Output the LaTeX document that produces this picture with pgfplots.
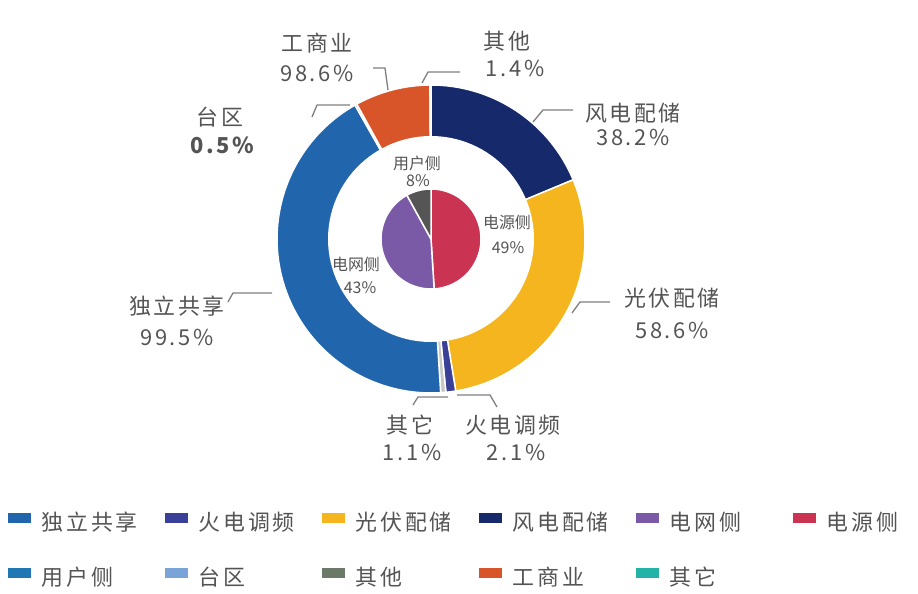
\documentclass[border=0pt]{standalone}
\usepackage{pgfplots}
\pgfplotsset{compat=1.18}
\usepackage{fontspec}
\setmainfont{Noto Sans CJK SC}
\newfontfamily\lblfont{Noto Sans CJK SC}[LetterSpace=12]
\newfontfamily\inlblfont{Noto Sans CJK SC}

\definecolor{txt}{HTML}{545454}
\definecolor{lead}{HTML}{7F7F7F}
\definecolor{cIndep}{HTML}{2166AC}
\definecolor{cThermal}{HTML}{3A3F98}
\definecolor{cPV}{HTML}{F5B51E}
\definecolor{cWind}{HTML}{15296B}
\definecolor{cGrid}{HTML}{7A5AA6}
\definecolor{cSource}{HTML}{CB3352}
\definecolor{cUser}{HTML}{1F77B4}
\definecolor{cUserPie}{HTML}{555555}
\definecolor{cTaiqu}{HTML}{7AA3D8}
\definecolor{cQita}{HTML}{6B7A66}
\definecolor{cComm}{HTML}{D8552A}
\definecolor{cOther}{HTML}{22B3A6}
\definecolor{cOtherRing}{HTML}{C8C8C8}

% running total of the whole, in per cent
\def\cum{0}
% #1 colour, #2 share of the group (per cent), #3 share within the group (per cent), #4 radius
\newcommand\seg[4]{%
  \pgfmathsetmacro\sa{-90+3.6*\cum}%
  \pgfmathsetmacro\sb{-90+3.6*(\cum+#2*#3/100)}%
  \edef\doseg{\noexpand\addplot[forget plot, fill=#1, draw=white, line width=1.5bp,
      domain=\sa:\sb, samples=80]
      ({431+#4*cos(x)},{239+#4*sin(x)}) -- (431,239) -- cycle;}%
  \doseg
  \pgfmathsetmacro\cumnew{\cum+#2*#3/100}\xdef\cum{\cumnew}%
}

\tikzset{
  outl/.style={font=\lblfont\fontsize{22}{26}\selectfont, text=txt, inner sep=0pt, anchor=center},
  inl/.style={font=\inlblfont\fontsize{16}{19}\selectfont, text=txt, inner sep=0pt, anchor=center},
  ld/.style={draw=lead, line width=1.3bp},
}

\begin{document}
\begin{tikzpicture}
\begin{axis}[
  width=918bp, height=594bp, scale only axis,
  xmin=0, xmax=918, ymin=0, ymax=594, y dir=reverse,
  hide axis, clip=false,
  legend columns=6,
  legend image code/.code={\fill[#1, draw=none] (0bp,2.5bp) rectangle (23bp,12.5bp);},
  legend style={draw=none, fill=none, inner sep=0pt, outer sep=0pt,
    at={(axis cs:8,512.5)}, anchor=north west,
    font=\lblfont\fontsize{22}{26}\selectfont, text=txt,
    row sep=33bp,
    /tikz/every odd column/.style={column sep=11bp},
    /tikz/every even column/.style={column sep=13bp},
    nodes={inner sep=0pt, text width=110bp, align=left, text height=15bp, text depth=4bp}},
]
% outer ring: 电源侧 49 (风电配储, 光伏配储, 火电调频, 其它), 电网侧 43 (独立共享, 台区), 用户侧 8 (工商业, 其他)
\seg{cWind}{49}{38.2}{154}
\seg{cPV}{49}{58.6}{154}
\seg{cThermal}{49}{2.1}{154}
\seg{cOtherRing}{49}{1.1}{154}
\seg{cIndep}{43}{99.5}{154}
\seg{cTaiqu}{43}{0.5}{154}
\seg{cComm}{8}{98.6}{154}
\seg{cOther}{8}{1.4}{154}
% hole of the ring
\addplot[forget plot, fill=white, draw=none, domain=0:360, samples=120]
  ({431+103*cos(x)},{239+103*sin(x)}) -- cycle;
% inner pie
\gdef\cum{0}
\seg{cSource}{49}{100}{50}
\seg{cGrid}{43}{100}{50}
\seg{cUserPie}{8}{100}{50}

% leader lines
\draw[ld] (350,105) -- (317,105) -- (312,117);
\draw[ld] (373,68) -- (385,68) -- (388,90);
\draw[ld] (460,72) -- (428,72) -- (422,83);
\draw[ld] (573,110) -- (543,110) -- (533,122);
\draw[ld] (610,302) -- (580,302) -- (572,313);
\draw[ld] (457,395) -- (490,395) -- (497,407);
\draw[ld] (448,397) -- (418,397) -- (413,405);
\draw[ld] (228,302) -- (233,293) -- (272,293);

% outer labels
\node[outl] at (317,43) {工商业};   \node[outl] at (317,73) {98.6\%};
\node[outl] at (507,41) {其他};     \node[outl] at (515,68) {1.4\%};
\node[outl] at (633,113) {风电配储}; \node[outl] at (633,137) {38.2\%};
\node[outl] at (672,298) {光伏配储}; \node[outl] at (672,330) {58.6\%};
\node[outl] at (513,425) {火电调频}; \node[outl] at (516,452) {2.1\%};
\node[outl] at (410,425) {其它};     \node[outl] at (412,452) {1.1\%};
\node[outl] at (177,306) {独立共享}; \node[outl] at (177,337) {99.5\%};
\node[outl] at (220,117) {台区};     \node[outl] at (222,145) {\bfseries 0.5\%};
% inner labels
\node[inl] at (417,163) {用户侧}; \node[inl] at (418,181) {8\%};
\node[inl] at (507,222) {电源侧}; \node[inl] at (508,248) {49\%};
\node[inl] at (356,264) {电网侧}; \node[inl] at (360,288) {43\%};

% legend
\addlegendimage{fill=cIndep}\addlegendentry{独立共享}
\addlegendimage{fill=cThermal}\addlegendentry{火电调频}
\addlegendimage{fill=cPV}\addlegendentry{光伏配储}
\addlegendimage{fill=cWind}\addlegendentry{风电配储}
\addlegendimage{fill=cGrid}\addlegendentry{电网侧}
\addlegendimage{fill=cSource}\addlegendentry{电源侧}
\addlegendimage{fill=cUser}\addlegendentry{用户侧}
\addlegendimage{fill=cTaiqu}\addlegendentry{台区}
\addlegendimage{fill=cQita}\addlegendentry{其他}
\addlegendimage{fill=cComm}\addlegendentry{工商业}
\addlegendimage{fill=cOther}\addlegendentry{其它}
\end{axis}
\pgfresetboundingbox
\useasboundingbox (0,0) rectangle (918bp,594bp);
\end{tikzpicture}
\end{document}
